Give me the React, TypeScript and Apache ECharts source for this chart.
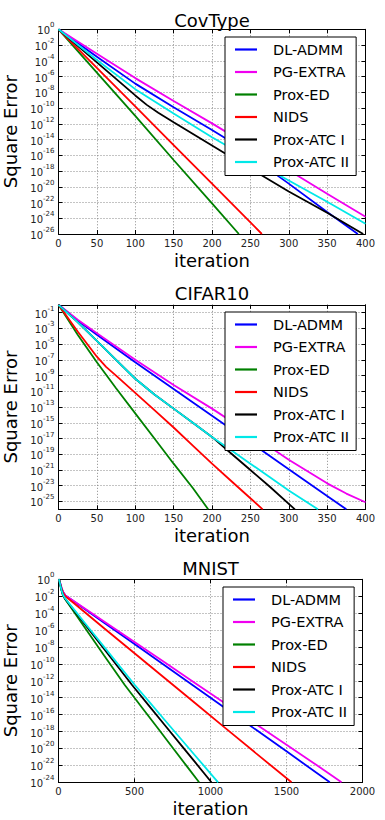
import React, { useEffect, useRef } from 'react';
import * as echarts from 'echarts';

// Values are [iteration, log10(square error)].
const covDlAdmm = [[0, 0], [50, -3.5], [100, -6.9], [150, -9.9], [200, -12.8], [217, -13.8], [250, -16.1], [300, -19.6], [350, -23.2], [390, -26]];
const covPgExtra = [[0, 0], [50, -3.1], [100, -6.2], [150, -9.1], [200, -11.95], [250, -14.9], [300, -17.9], [350, -20.9], [400, -23.8]];
const covProxEd = [[0, 0], [50, -5.5], [100, -11.0], [150, -16.6], [200, -22.1], [235, -26]];
const covNids = [[0, 0], [50, -4.9], [100, -9.8], [150, -14.7], [200, -19.6], [265, -26]];
const covProxAtc1 = [[0, 0], [25, -2.1], [50, -4.2], [75, -6.3], [100, -8.4], [115, -9.6], [130, -10.6], [150, -11.8], [200, -14.75], [250, -17.7], [300, -20.6], [350, -23.3], [397, -26]];
const covProxAtc2 = [[0, 0], [50, -3.9], [100, -7.6], [150, -10.7], [200, -13.7], [250, -16.5], [300, -19.2], [350, -21.9], [400, -24.7]];

const cifDlAdmm = [[0, 0], [25, -2.0], [50, -3.8], [100, -7.3], [150, -10.7], [200, -14.1], [250, -17.5], [300, -20.9], [350, -24.3], [375, -26]];
const cifPgExtra = [[0, 0], [25, -1.9], [50, -3.6], [100, -7.0], [150, -10.2], [200, -13.2], [250, -16.4], [300, -19.7], [350, -22.7], [375, -24.0], [400, -25.1]];
const cifProxEd = [[0, 0], [25, -3.8], [50, -7.3], [75, -10.6], [100, -13.8], [125, -17.0], [150, -20.2], [175, -23.3], [195, -26]];
const cifNids = [[0, 0], [25, -3.4], [50, -6.6], [62, -7.9], [75, -9.0], [100, -11.2], [125, -13.4], [150, -15.6], [175, -17.9], [200, -20.2], [225, -22.4], [250, -24.6], [266, -26]];
const cifProxAtc1 = [[0, 0], [25, -2.2], [50, -4.6], [75, -7.0], [100, -9.4], [125, -11.4], [150, -13.2], [175, -15.0], [200, -16.8], [225, -18.9], [250, -21.0], [275, -23.1], [308, -26]];
const cifProxAtc2 = [[0, 0], [25, -2.2], [50, -4.6], [75, -7.0], [100, -9.4], [125, -11.4], [150, -13.2], [175, -15.0], [200, -16.8], [225, -18.5], [250, -20.2], [275, -21.9], [300, -23.6], [338, -26]];

const mnDlAdmm = [[0, 0], [5, -0.1], [12, -0.5], [20, -1.0], [30, -1.5], [45, -1.9], [100, -2.6], [300, -5.13], [500, -7.66], [700, -10.2], [900, -12.73], [1100, -15.27], [1300, -17.8], [1500, -20.34], [1785, -24]];
const mnPgExtra = [[0, 0], [5, -0.1], [12, -0.5], [20, -1.0], [30, -1.5], [45, -1.9], [100, -2.57], [300, -5.0], [500, -7.42], [700, -9.85], [900, -12.28], [1100, -14.71], [1300, -17.14], [1500, -19.56], [1700, -21.99], [1862, -24]];
const mnProxEd = [[0, 0], [5, -0.1], [12, -0.7], [20, -1.3], [30, -1.9], [45, -2.4], [100, -3.8], [200, -6.4], [300, -9.0], [436, -12.5], [550, -15.18], [650, -17.53], [750, -19.88], [850, -22.24], [925, -24]];
const mnNids = [[0, 0], [5, -0.1], [12, -0.6], [20, -1.1], [30, -1.6], [45, -2.0], [100, -2.81], [300, -5.78], [500, -8.74], [700, -11.7], [900, -14.66], [1100, -17.62], [1300, -20.58], [1533, -24]];
const mnProxAtc1 = [[0, 0], [5, -0.1], [12, -0.7], [20, -1.3], [30, -1.9], [45, -2.35], [100, -3.62], [200, -5.93], [300, -8.24], [484, -12.5], [600, -15.05], [700, -17.25], [800, -19.45], [900, -21.65], [1006, -24]];
const mnProxAtc2 = [[0, 0], [5, -0.1], [12, -0.7], [20, -1.3], [30, -1.85], [45, -2.3], [100, -3.53], [200, -5.76], [300, -7.99], [502, -12.5], [600, -14.56], [700, -16.66], [800, -18.76], [900, -20.86], [1050, -24]];

const methods = ['DL-ADMM', 'PG-EXTRA', 'Prox-ED', 'NIDS', 'Prox-ATC I', 'Prox-ATC II'];
const colors = ['#0000ff', '#f000f0', '#008000', '#ff0000', '#000000', '#00e8e8'];

const titles = ['CovType', 'CIFAR10', 'MNIST'];
const covYTicks = [-26, -24, -22, -20, -18, -16, -14, -12, -10, -8, -6, -4, -2, 0];
const cifYTicks = [-25, -23, -21, -19, -17, -15, -13, -11, -9, -7, -5, -3, -1];
const mnYTicks = [-24, -22, -20, -18, -16, -14, -12, -10, -8, -6, -4, -2, 0];
const covXMax = 400;
const cifXMax = 400;
const mnXMax = 2000;

const FONT = 'DejaVu Sans';

const panels = [
  {
    title: titles[0], data: [covDlAdmm, covPgExtra, covProxEd, covNids, covProxAtc1, covProxAtc2],
    xMax: covXMax, xStep: 50, yMin: -26, yTicks: covYTicks,
    grid: { left: 58.5, top: 29.3, width: 307, height: 204.7 },
    legend: { left: 225, top: 37 }, titleTop: 11,
  },
  {
    title: titles[1], data: [cifDlAdmm, cifPgExtra, cifProxEd, cifNids, cifProxAtc1, cifProxAtc2],
    xMax: cifXMax, xStep: 50, yMin: -26, yTicks: cifYTicks,
    grid: { left: 58.5, top: 304.8, width: 307, height: 204.5 },
    legend: { left: 225, top: 312 }, titleTop: 284,
  },
  {
    title: titles[2], data: [mnDlAdmm, mnPgExtra, mnProxEd, mnNids, mnProxAtc1, mnProxAtc2],
    xMax: mnXMax, xStep: 500, yMin: -24, yTicks: mnYTicks,
    grid: { left: 58.5, top: 579.3, width: 304, height: 203 },
    legend: { left: 223, top: 587 }, titleTop: 559,
  },
];

export default function App() {
  const ref = useRef<HTMLDivElement>(null);
  useEffect(() => {
    if (!ref.current) return;
    const chart = echarts.init(ref.current, undefined, { renderer: 'svg' });
    const axisLine = { show: true, onZero: false, lineStyle: { color: '#000', width: 1 } };
    const tick = { show: true, inside: true, length: 4, lineStyle: { color: '#000', width: 1 } };
    const grid: any[] = [];
    const xAxis: any[] = [];
    const yAxis: any[] = [];
    const series: any[] = [];
    const legend: any[] = [];
    const title: any[] = [];
    panels.forEach((p, i) => {
      grid.push({ ...p.grid, show: false, containLabel: false, outerBoundsMode: 'none' });
      title.push({
        text: p.title, left: p.grid.left + p.grid.width / 2, top: p.titleTop, textAlign: 'center', padding: 0,
        textStyle: { fontFamily: FONT, fontSize: 18, fontWeight: 'normal', color: '#000' },
      });
      xAxis.push({
        type: 'value', gridIndex: i, min: 0, max: p.xMax, interval: p.xStep, position: 'bottom',
        axisLine, axisTick: tick,
        axisLabel: {
          fontFamily: FONT, fontSize: 10, color: '#222', margin: 4, showMinLabel: true, showMaxLabel: true,
          formatter: (v: number) => String(v),
        },
        splitLine: { show: true, lineStyle: { color: '#888', width: 1, type: [1, 2] } },
        name: 'iteration', nameLocation: 'middle', nameGap: 17,
        nameTextStyle: { fontFamily: FONT, fontSize: 18, color: '#000' },
      });
      xAxis.push({
        type: 'value', gridIndex: i, min: 0, max: p.xMax, interval: p.xStep, position: 'top',
        axisLine, axisTick: tick, axisLabel: { show: false }, splitLine: { show: false },
      });
      yAxis.push({
        type: 'value', gridIndex: i, min: p.yMin, max: 0, interval: 2, position: 'left',
        axisLine, axisTick: { ...tick, customValues: p.yTicks },
        axisLabel: {
          customValues: p.yTicks, margin: 4, color: '#222', fontFamily: FONT,
          formatter: (v: number) => `{b|10}{s|${Math.round(v)}}`,
          rich: {
            b: { fontSize: 10, fontFamily: FONT, color: '#222', padding: [3, 0, 0, 0] },
            s: { fontSize: 7, fontFamily: FONT, color: '#222', padding: [0, 0, 8, 0] },
          },
        },
        splitLine: { show: true, lineStyle: { color: '#888', width: 1, type: [1, 2] } },
        name: 'Square Error', nameLocation: 'middle', nameGap: 38,
        nameTextStyle: { fontFamily: FONT, fontSize: 18, color: '#000' },
      });
      yAxis.push({
        type: 'value', gridIndex: i, min: p.yMin, max: 0, interval: 2, position: 'right',
        axisLine, axisTick: { ...tick, customValues: p.yTicks }, axisLabel: { show: false, customValues: p.yTicks },
        splitLine: { show: false },
      });
      p.data.forEach((d, k) => {
        series.push({
          type: 'line', name: methods[k], xAxisIndex: 2 * i, yAxisIndex: 2 * i, data: d,
          symbol: 'none', showSymbol: false, smooth: false, clip: true,
          lineStyle: { color: colors[k], width: 1.8 }, itemStyle: { color: colors[k] },
          emphasis: { disabled: true },
        });
      });
      legend.push({
        orient: 'vertical', left: p.legend.left, top: p.legend.top, data: methods,
        icon: 'rect', itemWidth: 22, itemHeight: 2.2, itemGap: 7.5, padding: [5, 7, 6, 10],
        borderColor: '#000', borderWidth: 1, borderRadius: 0, backgroundColor: '#fff',
        selectedMode: false,
        textStyle: { fontFamily: FONT, fontSize: 14.5, color: '#000', lineHeight: 14, padding: [0, 0, 0, 11] },
      });
    });
    chart.setOption({
      animation: false,
      backgroundColor: '#fff',
      textStyle: { fontFamily: FONT },
      title, grid, xAxis, yAxis, series, legend,
    });
    return () => chart.dispose();
  }, []);
  return <div ref={ref} style={{ position: 'absolute', left: 0, top: 0, width: 385, height: 820 }} />;
}
